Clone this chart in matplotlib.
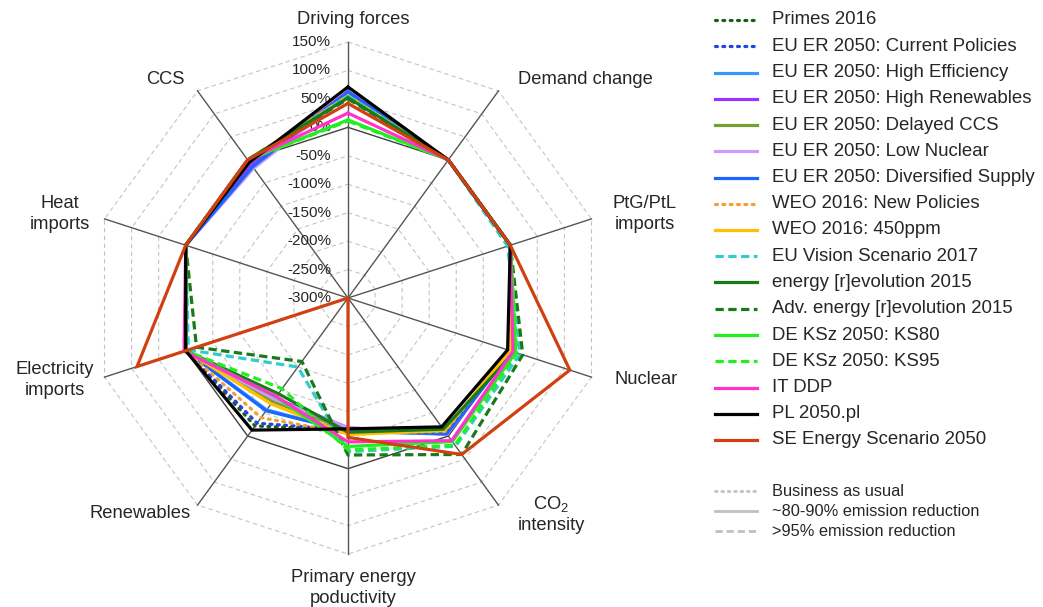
import numpy as np
import matplotlib
matplotlib.use("Agg")
import matplotlib.pyplot as plt
from matplotlib.lines import Line2D

plt.rcParams['font.family'] = ['Liberation Sans', 'DejaVu Sans']
plt.rcParams['mathtext.fontset'] = 'custom'
plt.rcParams['mathtext.rm'] = 'Liberation Sans'

# Indicator axes, clockwise from the top
categories = ["Driving forces", "Demand change", "PtG/PtL\nimports", "Nuclear",
              r"CO$_\mathrm{2}$" + "\nintensity", "Primary energy\npoductivity",
              "Renewables", "Electricity\nimports", "Heat\nimports", "CCS"]

tick_values = [150, 100, 50, 0, -50, -100, -150, -200, -250, -300]
tick_labels = [f"{v}%" for v in tick_values]

# Scenario values (%) per indicator, same order as categories
primes_2016      = [58, 0, 0, -3, -8, -68, -22, 0, 0, -5]
eu_current_pol   = [60, 0, 0, -2, -6, -68, -28, 0, 0, -5]
eu_high_eff      = [60, 0, 0, 2, -4, -66, -57, 0, 0, -15]
eu_high_ren      = [63, 0, 0, 1, -4, -72, -82, 0, 0, -10]
eu_delayed_ccs   = [55, 0, 0, 2, -8, -68, -75, 0, 0, -5]
eu_low_nuclear   = [58, 0, 0, -2, -4, -72, -80, 0, 0, -18]
eu_diversified   = [62, 0, 0, 2, -5, -66, -55, 0, 0, -15]
weo_new_policies = [55, 0, 0, 0, -10, -62, -40, 0, 0, 0]
weo_450ppm       = [55, 0, 0, 0, -12, -60, -70, 0, 0, 0]
eu_vision_2017   = [55, 0, -5, 18, 22, -30, -150, -5, 0, 0]
e_revolution     = [52, 0, 0, 8, -15, -64, -92, 0, 0, 0]
adv_e_revolution = [50, 0, 0, 23, 40, -24, -162, -20, 0, 0]
de_ks80          = [13, 0, 0, 10, 12, -39, -85, 0, 0, 0]
de_ks95          = [11, 0, 0, 12, 20, -33, -103, 0, 0, 0]
it_ddp           = [25, 0, 0, 5, 10, -47, -86, 3, 0, 0]
pl_2050          = [71, 0, 0, -5, -20, -70, -13, 0, 0, -5]
se_2050          = [42, 0, 0, 110, 40, -55, -300, 90, 0, 0]

series_names = ["Primes 2016", "EU ER 2050: Current Policies", "EU ER 2050: High Efficiency",
                "EU ER 2050: High Renewables", "EU ER 2050: Delayed CCS",
                "EU ER 2050: Low Nuclear", "EU ER 2050: Diversified Supply",
                "WEO 2016: New Policies", "WEO 2016: 450ppm", "EU Vision Scenario 2017",
                "energy [r]evolution 2015", "Adv. energy [r]evolution 2015",
                "DE KSz 2050: KS80", "DE KSz 2050: KS95", "IT DDP", "PL 2050.pl",
                "SE Energy Scenario 2050"]
series_values = [primes_2016, eu_current_pol, eu_high_eff, eu_high_ren, eu_delayed_ccs,
                 eu_low_nuclear, eu_diversified, weo_new_policies, weo_450ppm,
                 eu_vision_2017, e_revolution, adv_e_revolution, de_ks80, de_ks95,
                 it_ddp, pl_2050, se_2050]

DOT, SOLID, DASH = "dot", "solid", "dash"
series_styles = [
    ("#1E5C1E", DOT), ("#2244DD", DOT), ("#3399FF", SOLID), ("#9933FF", SOLID),
    ("#77A030", SOLID), ("#CC99FF", SOLID), ("#1A66FF", SOLID), ("#F0A030", DOT),
    ("#FFC000", SOLID), ("#33CCCC", DASH), ("#1A7A1A", SOLID), ("#1A7A1A", DASH),
    ("#22EE22", SOLID), ("#22EE22", DASH), ("#FF33CC", SOLID), ("#000000", SOLID),
    ("#D04010", SOLID),
]

group_names = ["Business as usual", "~80-90% emission reduction", ">95% emission reduction"]
group_styles = [DOT, SOLID, DASH]

W, H = 1043, 607
fig = plt.figure(figsize=(W / 100, H / 100), dpi=100)


def fx(px):
    return px / W


def fy(py):
    return 1 - py / H


cx, cy, R = 348, 298, 256
ax = fig.add_axes([fx(cx - R), fy(cy + R), 2 * R / W, 2 * R / H], projection="polar")
ax.set_theta_zero_location("N")
ax.set_theta_direction(-1)
ax.set_ylim(-300, 150)
ax.grid(False)
ax.set_xticks([])
ax.set_yticks([])
ax.spines["polar"].set_visible(False)
ax.patch.set_visible(False)

n = len(categories)
theta = np.linspace(0, 2 * np.pi, n, endpoint=False)
theta_closed = np.append(theta, theta[0])

# Polygon grid
for v in tick_values[:-1]:
    ring = np.full(n + 1, v, dtype=float)
    if v == 0:
        ax.plot(theta_closed, ring, color="#404040", lw=1.0, clip_on=False, zorder=2)
    else:
        ax.plot(theta_closed, ring, color="#C4C4C4", lw=0.8, dashes=(4, 3),
                clip_on=False, zorder=1)
for t in theta:
    ax.plot([t, t], [-300, 150], color="#555555", lw=1.0, clip_on=False, zorder=2)

# Radial tick labels along the top spoke
for v, lab in zip(tick_values, tick_labels):
    ax.annotate(lab, xy=(0, v), xytext=(-12, 0), textcoords="offset points",
                ha="right", va="center", fontsize=11, color="#262626",
                annotation_clip=False, zorder=3)


def line_kw(kind, lw):
    if kind == DOT:
        return dict(lw=lw, dashes=(0.6, 1.7), dash_capstyle="round")
    if kind == DASH:
        return dict(lw=lw, dashes=(2.6, 1.4))
    return dict(lw=lw, linestyle="-")


for vals, (color, kind) in zip(series_values, series_styles):
    r = np.append(vals, vals[0])
    ax.plot(theta_closed, r, color=color, clip_on=False, zorder=4,
            solid_joinstyle="miter", **line_kw(kind, 2.3))

# Indicator labels
label_pos = [(353, 20), (585, 80), (645, 214), (646, 380), (551, 514),
             (353, 588), (140, 514), (55, 380), (60, 214), (165, 80)]
for lab, (px, py) in zip(categories, label_pos):
    fig.text(fx(px), fy(py), lab, ha="center", va="center", fontsize=13.2,
             color="#262626", linespacing=1.3)

# Scenario legend
lx0, lx1, tx = 715, 757, 772
y0, dy = 20, 26.25
for i, (name, (color, kind)) in enumerate(zip(series_names, series_styles)):
    yy = fy(y0 + i * dy)
    fig.add_artist(Line2D([fx(lx0), fx(lx1)], [yy, yy], transform=fig.transFigure,
                          color=color, **line_kw(kind, 2.3)))
    fig.text(fx(tx), yy, name, ha="left", va="center", fontsize=13.4, color="#262626")

# Pathway legend
for i, (name, kind) in enumerate(zip(group_names, group_styles)):
    yy = fy(491 + i * 20)
    fig.add_artist(Line2D([fx(lx0), fx(lx1)], [yy, yy], transform=fig.transFigure,
                          color="#C0C0C0", **line_kw(kind, 2.0)))
    fig.text(fx(tx), yy, name, ha="left", va="center", fontsize=11.8, color="#262626")

fig.savefig("out.png", dpi=100, facecolor="white")
